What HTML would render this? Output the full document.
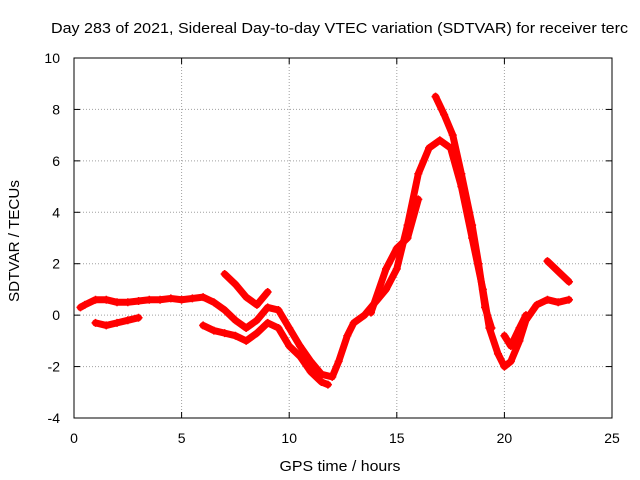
<!DOCTYPE html>
<html><head><meta charset="utf-8"><style>
html,body{margin:0;padding:0;background:#fff}
svg{display:block;font-family:"Liberation Sans",sans-serif;font-size:14px}
</style></head><body>
<svg id="chart" width="640" height="480">
<text x="51" y="33" font-size="15" textLength="577" lengthAdjust="spacingAndGlyphs">Day 283 of 2021, Sidereal Day-to-day VTEC variation (SDTVAR) for receiver terc</text>
<g id="grid"></g>
<g id="axes"></g>
<g id="series"></g>
<rect x="74" y="58" width="538" height="360" fill="none" stroke="#000"/>
<text x="340" y="471" text-anchor="middle" font-size="15" textLength="121" lengthAdjust="spacingAndGlyphs">GPS time / hours</text>
<text transform="translate(19,241) rotate(-90)" text-anchor="middle" font-size="15" textLength="122" lengthAdjust="spacingAndGlyphs">SDTVAR / TECUs</text>
</svg>
<script>
const xTicks=[0,5,10,15,20,25];
const yTicks=[-4,-2,0,2,4,6,8,10];
const trackA=[[0.3,0.3],[0.5,0.4],[1,0.6],[1.5,0.6],[2,0.5],[2.5,0.5],[3,0.55],[3.5,0.6],[4,0.6],[4.5,0.65],[5,0.6],[5.5,0.65],[6,0.7],[6.5,0.5],[7,0.2],[7.5,-0.2],[8,-0.5],[8.5,-0.2],[9,0.3],[9.5,0.2],[10,-0.5],[10.5,-1.2],[11,-1.8],[11.5,-2.3],[12,-2.4],[12.3,-1.8],[12.7,-0.8],[13,-0.3],[13.5,0],[14,0.5],[14.5,1.0],[15,1.8],[15.5,3.5],[16,5.5],[16.5,6.5],[17,6.8],[17.5,6.5],[18,5],[18.5,3],[19,1],[19.3,-0.5],[19.7,-1.5],[20,-2],[20.3,-1.8],[20.7,-1],[21,-0.2],[21.5,0.4],[22,0.6],[22.5,0.5],[23,0.6]];
const trackB=[[1,-0.3],[1.5,-0.4],[2,-0.3],[2.5,-0.2],[3,-0.1]];
const trackC=[[6,-0.4],[6.5,-0.6],[7,-0.7],[7.5,-0.8],[8,-1.0],[8.5,-0.7],[9,-0.3],[9.5,-0.5],[10,-1.2],[10.5,-1.6],[11,-2.2],[11.5,-2.6],[11.8,-2.7]];
const trackD=[[7,1.6],[7.5,1.2],[8,0.7],[8.5,0.4],[9,0.9]];
const trackE=[[13.8,0.1],[14.5,1.8],[15,2.6],[15.5,3],[16,4.5]];
const trackF=[[16.8,8.5],[17.2,7.8],[17.6,7],[18,5.5],[18.5,3.5],[18.8,2],[19.1,0.3],[19.4,-0.5]];
const trackG=[[20,-0.8],[20.3,-1.2],[20.7,-0.5],[21,0]];
const trackH=[[22,2.1],[22.5,1.7],[23,1.3]];
const tracks=[trackA,trackB,trackC,trackD,trackE,trackF,trackG,trackH];
const NS="http://www.w3.org/2000/svg";
const X0=74,X1=612,Y0=418,Y1=58;
const sx=v=>X0+(v-0)/25*(X1-X0);
const sy=v=>Y0-(v+4)/14*(Y0-Y1);
function mk(t,a,p){const e=document.createElementNS(NS,t);for(const k in a)e.setAttribute(k,a[k]);p.appendChild(e);return e;}
const grid=document.getElementById('grid'),axes=document.getElementById('axes'),ser=document.getElementById('series');
xTicks.forEach(t=>{const x=sx(t);
 if(t>0&&t<25){const g=mk('line',{x1:x,x2:x,y1:Y1,y2:Y0,stroke:'#a0a0a0','stroke-dasharray':'1,2'},grid);
 
 }
 mk('line',{x1:x,x2:x,y1:Y0,y2:Y0-6,stroke:'#000'},axes);mk('line',{x1:x,x2:x,y1:Y1,y2:Y1+6,stroke:'#000'},axes);
 const l=mk('text',{x:x,y:443,'text-anchor':'middle'},axes);l.textContent=t;
 
 });
yTicks.forEach(t=>{const y=sy(t);
 if(t>-4&&t<10){const g=mk('line',{x1:X0,x2:X1,y1:y,y2:y,stroke:'#a0a0a0','stroke-dasharray':'1,2'},grid);
 
 }
 mk('line',{x1:X0,x2:X0+6,y1:y,y2:y,stroke:'#000'},axes);mk('line',{x1:X1,x2:X1-6,y1:y,y2:y,stroke:'#000'},axes);
 const l=mk('text',{x:X0-14,y:y+5,'text-anchor':'end'},axes);l.textContent=t;
 
 });
tracks.forEach(tr=>{
 const pl=mk('polyline',{points:tr.map(p=>sx(p[0])+','+sy(p[1])).join(' '),fill:'none',stroke:'#f00','stroke-width':7,'stroke-linejoin':'round','stroke-linecap':'round'},ser);
 
 
 tr.forEach(p=>{const x=sx(p[0]),y=sy(p[1]);
  const m=mk('path',{d:`M${x-4},${y}H${x+4}M${x},${y-4}V${y+4}`,stroke:'#f00','stroke-width':1.5},ser);
  
  });
});
</script>
</body></html>
